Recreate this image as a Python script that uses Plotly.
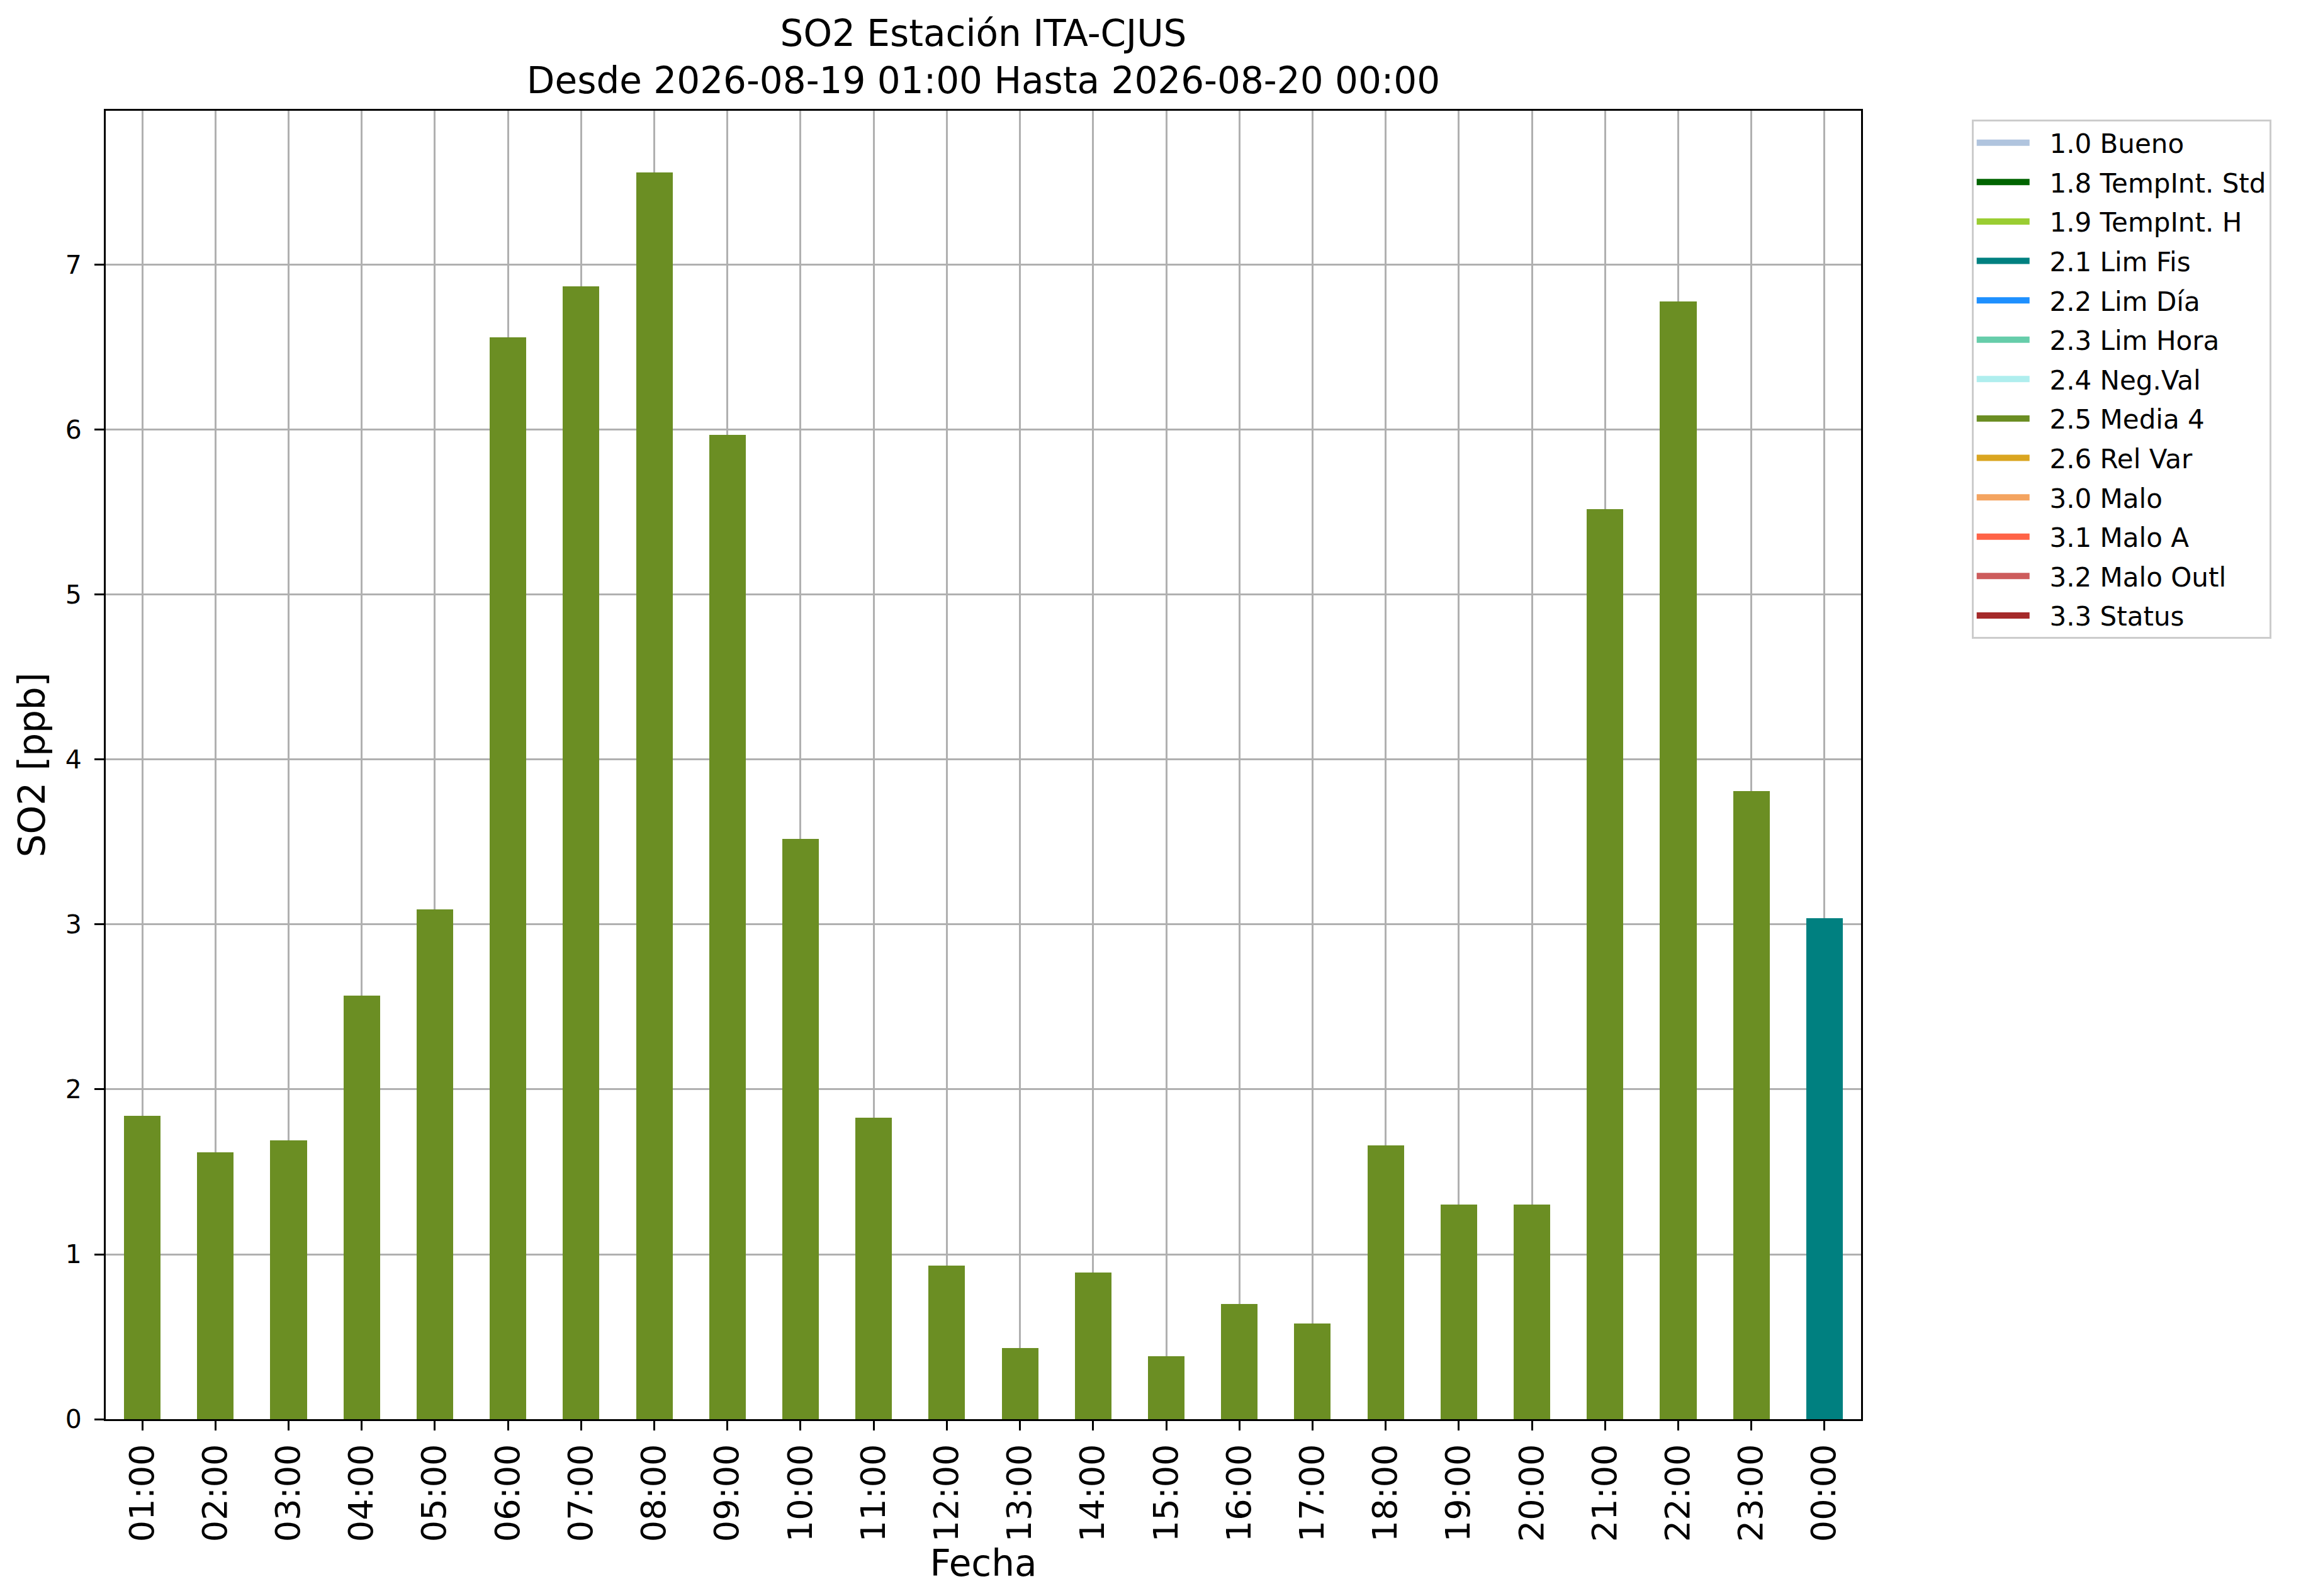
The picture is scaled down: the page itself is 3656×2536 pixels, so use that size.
import plotly.graph_objects as go

# Hourly SO2 values (ppb) and quality flag of each hour
horas = [
    "01:00", "02:00", "03:00", "04:00", "05:00", "06:00", "07:00", "08:00",
    "09:00", "10:00", "11:00", "12:00", "13:00", "14:00", "15:00", "16:00",
    "17:00", "18:00", "19:00", "20:00", "21:00", "22:00", "23:00", "00:00",
]
so2 = [
    1.84, 1.62, 1.69, 2.57, 3.09, 6.56, 6.87, 7.56,
    5.97, 3.52, 1.83, 0.93, 0.43, 0.89, 0.38, 0.70,
    0.58, 1.66, 1.30, 1.30, 5.52, 6.78, 3.81, 3.04,
]
flag = [
    "2.5 Media 4", "2.5 Media 4", "2.5 Media 4", "2.5 Media 4", "2.5 Media 4", "2.5 Media 4",
    "2.5 Media 4", "2.5 Media 4", "2.5 Media 4", "2.5 Media 4", "2.5 Media 4", "2.5 Media 4",
    "2.5 Media 4", "2.5 Media 4", "2.5 Media 4", "2.5 Media 4", "2.5 Media 4", "2.5 Media 4",
    "2.5 Media 4", "2.5 Media 4", "2.5 Media 4", "2.5 Media 4", "2.5 Media 4", "2.1 Lim Fis",
]

# Flag categories shown in the legend and their colours
flags = [
    "1.0 Bueno", "1.8 TempInt. Std", "1.9 TempInt. H", "2.1 Lim Fis", "2.2 Lim Día",
    "2.3 Lim Hora", "2.4 Neg.Val", "2.5 Media 4", "2.6 Rel Var", "3.0 Malo",
    "3.1 Malo A", "3.2 Malo Outl", "3.3 Status",
]
colores = [
    "#B0C4DE", "#006400", "#9ACD32", "#008080", "#1E90FF",
    "#66CDAA", "#AFEEEE", "#6B8E23", "#DAA520", "#F4A460",
    "#FF6347", "#CD5C5C", "#A52A2A",
]

FONT = "DejaVu Sans"

fig = go.Figure()

# one bar trace per flag, only hours with that flag get a value
for nombre, color in zip(flags, colores):
    y = [v if f == nombre else None for v, f in zip(so2, flag)]
    fig.add_trace(
        go.Bar(
            x=horas,
            y=y,
            name=nombre,
            legendgroup=nombre,
            showlegend=False,
            width=0.5,
            marker=dict(color=color, line=dict(width=0)),
        )
    )
    # legend entry drawn as a thick patch-like line (nbsp gives the text gap)
    fig.add_trace(
        go.Scatter(
            x=[None],
            y=[None],
            mode="lines",
            name="\u00a0\u00a0" + nombre,
            legendgroup=nombre,
            line=dict(color=color, width=20),
            hoverinfo="skip",
        )
    )

fig.update_layout(
    width=3656,
    height=2536,
    barmode="stack",
    plot_bgcolor="white",
    paper_bgcolor="white",
    font=dict(family=FONT, color="black"),
    margin=dict(l=160, r=707, t=168, b=289),
    title=dict(
        text="SO2 Estación ITA-CJUS<br>Desde 2026-08-19 01:00 Hasta 2026-08-20 00:00",
        font=dict(size=58, family=FONT, color="black"),
        x=0.5,
        xref="paper",
        xanchor="center",
        y=0.9745,
        yref="container",
        yanchor="top",
    ),
    legend=dict(
        x=1.063,
        y=0.9933,
        xanchor="left",
        yanchor="top",
        font=dict(size=42, family=FONT, color="black"),
        bordercolor="#cccccc",
        borderwidth=3,
        bgcolor="white",
        itemwidth=84,
        tracegroupgap=5,
        traceorder="grouped",
    ),
    showlegend=True,
)

fig.update_xaxes(
    type="category",
    range=[-0.5, 23.5],
    tickangle=-90,
    tickfont=dict(size=54, family=FONT),
    ticks="outside",
    ticklen=15,
    tickwidth=3,
    tickcolor="black",
    ticklabelstandoff=0,
    showgrid=True,
    gridcolor="#b0b0b0",
    gridwidth=3,
    showline=True,
    linecolor="black",
    linewidth=3,
    mirror=True,
    layer="above traces",
    title=dict(text="Fecha", font=dict(size=58, family=FONT), standoff=0),
)

fig.update_yaxes(
    range=[0, 7.935],
    tickvals=[0, 1, 2, 3, 4, 5, 6, 7],
    tickfont=dict(size=41, family=FONT),
    ticks="outside",
    ticklen=15,
    tickwidth=3,
    tickcolor="black",
    ticklabelstandoff=12,
    showgrid=True,
    gridcolor="#b0b0b0",
    gridwidth=3,
    zeroline=False,
    showline=True,
    linecolor="black",
    linewidth=3,
    mirror=True,
    layer="above traces",
    title=dict(text="SO2 [ppb]", font=dict(size=58, family=FONT), standoff=14),
)

fig.write_html("out.html")
